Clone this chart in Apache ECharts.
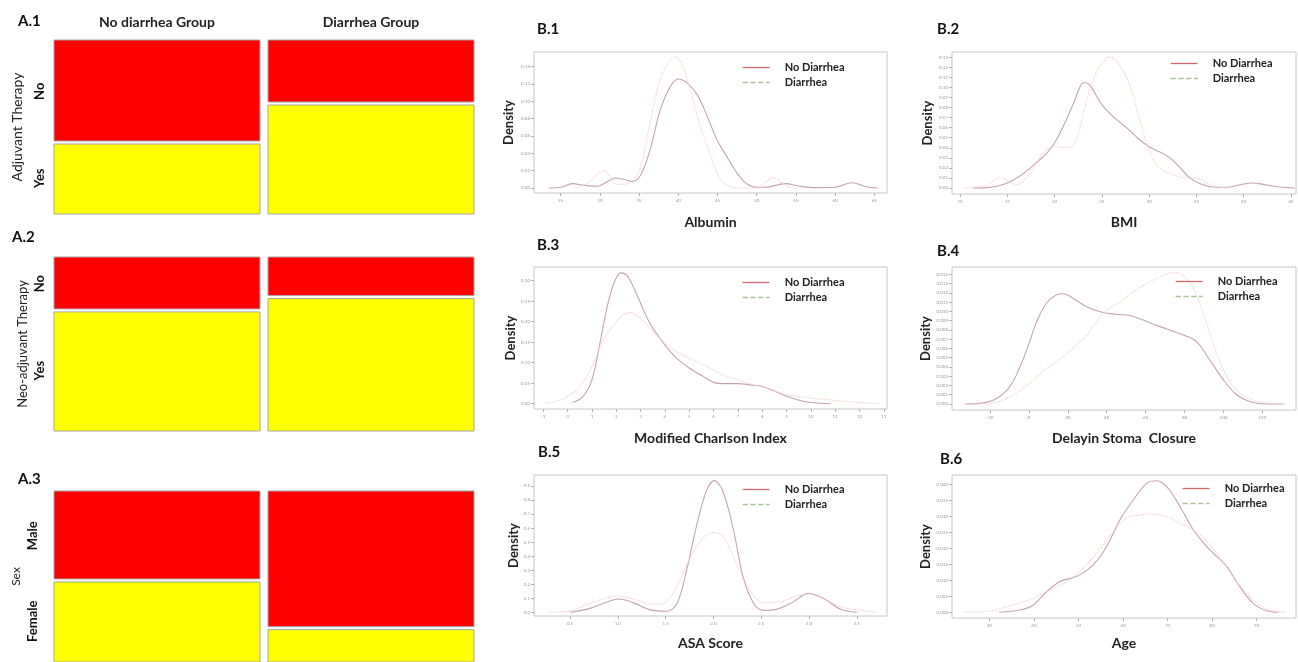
<!DOCTYPE html>
<html><head><meta charset="utf-8">
<script src="https://cdn.jsdelivr.net/npm/echarts@6/dist/echarts.min.js"></script>
<style>html,body{margin:0;padding:0;background:#fff}#c{width:1298px;height:662px}</style>
</head><body><div id="c"></div><script>
// ---------- Mosaic panels (A) ----------
const groups = ['No diarrhea Group', 'Diarrhea Group'];
const adjuvantNoShare = [0.589, 0.365];      // share of "No" within each group
const neoadjuvantNoShare = [0.307, 0.23];
const maleShare = [0.523, 0.802];
const adjuvantRows = ['No', 'Yes'];
const neoadjuvantRows = ['No', 'Yes'];
const sexRows = ['Male', 'Female'];

// ---------- Density panels (B) ----------
const albuminNo = [[23.5,0],[25,0.0008],[26.5,0.005],[28,0.003],[29.7,0.002],[30.7,0.006],[32,0.0115],[33,0.010],[34.1,0.0075],[35.2,0.015],[36.4,0.044],[37.7,0.09],[39,0.117],[40,0.1255],[41.1,0.121],[42.4,0.1075],[43.6,0.0845],[45,0.054],[46.2,0.036],[47.5,0.017],[48.7,0.005],[50,0.0008],[51.3,0.001],[53.6,0.005],[55.5,0.002],[57.6,0.0004],[60,0.0008],[62.1,0.006],[64,0.0015],[65.5,0]];
const albuminYes = [[26.9,0],[28.5,0.006],[30.5,0.020],[32.2,0.004],[33.9,0.0065],[35.2,0.025],[36.4,0.075],[37.7,0.125],[39,0.148],[39.6,0.151],[40.5,0.142],[41.5,0.113],[42.8,0.071],[44.1,0.038],[45.3,0.0115],[46.6,0.002],[48.3,0],[50,0],[51.3,0.0077],[52.1,0.012],[53.2,0.0065],[54.2,0.0008],[55.1,0]];
const bmiNo = [[11.4,0],[12.8,0.0003],[13.9,0.0017],[15,0.005],[16.3,0.0116],[17.8,0.023],[19.2,0.035],[20,0.045],[20.9,0.061],[22,0.084],[22.7,0.101],[23.1,0.105],[23.7,0.1025],[25,0.083],[26.2,0.071],[27.6,0.06],[29,0.048],[30,0.041],[31.1,0.036],[32.2,0.030],[33.3,0.020],[34.3,0.010],[35.4,0.0043],[36.8,0.001],[38.2,0.0007],[40,0.004],[41,0.005],[42.4,0.003],[43.8,0.001],[45.4,0]];
const bmiYes = [[10.5,0],[12.8,0.0026],[14.2,0.01],[16,0.0033],[17.4,0.015],[18.8,0.035],[20,0.041],[21.3,0.04],[22,0.043],[22.7,0.061],[23.4,0.088],[24.5,0.117],[25.5,0.129],[25.9,0.13],[26.9,0.122],[28,0.101],[29,0.068],[30.1,0.035],[31.1,0.02],[32.6,0.013],[34,0.01],[35,0.01],[36.1,0.005],[37.5,0.0007],[38.6,0]];
const charlsonNo = [[0.23,0.003],[0.64,0.018],[1,0.058],[1.33,0.148],[1.6,0.229],[1.88,0.29],[2.18,0.319],[2.42,0.314],[2.7,0.285],[3,0.245],[3.38,0.196],[3.79,0.16],[4,0.143],[4.48,0.111],[5,0.087],[5.58,0.066],[6,0.052],[6.4,0.049],[7,0.049],[7.5,0.046],[8,0.042],[8.45,0.032],[9,0.018],[9.55,0.008],[10,0.003],[10.8,0]];
const charlsonYes = [[-0.86,0.0016],[-0.45,0.0057],[0,0.018],[0.5,0.042],[1,0.091],[1.47,0.156],[2,0.2],[2.29,0.216],[2.56,0.222],[3,0.208],[3.52,0.176],[4,0.148],[4.48,0.127],[5,0.111],[5.58,0.095],[6.4,0.07],[7,0.058],[7.63,0.046],[8,0.042],[8.45,0.032],[9,0.022],[10,0.014],[11,0.008],[12,0.003],[12.77,0]];
const stomaNo = [[-32.9,0],[-25.1,0.00007],[-16.6,0.0006],[-9.7,0.0019],[-4.6,0.004],[0,0.0065],[4,0.0089],[9.1,0.0109],[14.3,0.0118],[17.7,0.0119],[22.8,0.0114],[29.7,0.0105],[36.6,0.00996],[43.4,0.0097],[50.3,0.0096],[57.1,0.0092],[64,0.0086],[70.8,0.0081],[80,0.0074],[86.3,0.0067],[93.1,0.0047],[100,0.0026],[106.8,0.001],[113.7,0.00025],[122.2,0],[130.8,0]];
const stomaYes = [[-32.9,0],[-20,0.00007],[-9.7,0.0008],[0,0.0022],[9.1,0.0038],[17.7,0.0051],[24.6,0.0064],[29.7,0.0074],[34.8,0.0089],[40,0.0101],[46.8,0.011],[53.7,0.0121],[60.5,0.013],[67.4,0.0137],[74.3,0.0142],[79.4,0.0139],[84.5,0.0125],[89.7,0.0098],[94.8,0.0065],[100,0.0037],[106.8,0.0015],[115.4,0.0004],[124,0.00007],[132.5,0]];
const asaNo = [[0.5,0],[0.71,0.028],[0.85,0.064],[1.01,0.095],[1.16,0.069],[1.34,0.017],[1.51,0.007],[1.62,0.064],[1.72,0.30],[1.83,0.634],[1.93,0.87],[2.01,0.938],[2.1,0.86],[2.21,0.587],[2.31,0.254],[2.42,0.064],[2.52,0.014],[2.66,0.021],[2.84,0.076],[2.99,0.135],[3.15,0.1],[3.33,0.021],[3.5,0]];
const asaYes = [[0.27,0],[0.5,0.0095],[0.71,0.064],[1.01,0.116],[1.2,0.088],[1.37,0.057],[1.51,0.076],[1.65,0.23],[1.79,0.432],[1.91,0.539],[2.01,0.568],[2.1,0.539],[2.24,0.349],[2.38,0.159],[2.52,0.069],[2.7,0.076],[2.87,0.116],[3.01,0.131],[3.15,0.1],[3.33,0.04],[3.5,0.017],[3.73,0]];
const ageNo = [[32.2,0],[36.9,0.0007],[39.9,0.0023],[42.9,0.0065],[45.9,0.0096],[48.1,0.0106],[50.3,0.0117],[53.3,0.0148],[56.3,0.0205],[59.3,0.0289],[62.3,0.0351],[65.3,0.0403],[67.4,0.0411],[69.8,0.0393],[72.8,0.033],[75.8,0.0257],[78.8,0.0205],[80.3,0.0184],[83.3,0.0143],[86.2,0.008],[89.2,0.0028],[92.2,0.0005],[94.8,0]];
const ageYes = [[24.2,0],[30,0.0004],[35.4,0.0023],[39.9,0.0044],[44.4,0.0075],[48.1,0.0101],[51.8,0.0148],[55.2,0.0205],[57.8,0.0252],[60.8,0.0294],[63.8,0.0304],[66.8,0.0307],[69.8,0.0299],[72.8,0.0278],[75.8,0.0257],[78.8,0.0221],[81.8,0.0169],[84.7,0.0111],[87.7,0.0059],[90.7,0.0023],[93.7,0.0005],[96.7,0]];

// tick labels
const albuminXTicks = ['25','30','35','40','45','50','55','60','65'];
const albuminYTicks = ['0.00','0.02','0.04','0.06','0.08','0.10','0.12','0.14'];
const bmiXTicks = ['10','15','20','25','30','35','40','45'];
const bmiYTicks = ['0.00','0.01','0.02','0.03','0.04','0.05','0.06','0.07','0.08','0.09','0.10','0.11','0.12','0.13'];
const charlsonXTicks = ['-1','0','1','2','3','4','5','6','7','8','9','10','11','12','13'];
const charlsonYTicks = ['0.00','0.05','0.10','0.15','0.20','0.25','0.30'];
const stomaXTicks = ['-20','0','20','40','60','80','100','120'];
const stomaYTicks = ['0.000','0.001','0.002','0.003','0.004','0.005','0.006','0.007','0.008','0.009','0.010','0.011','0.012','0.013','0.014'];
const asaXTicks = ['0.5','1.0','1.5','2.0','2.5','3.0','3.5'];
const asaYTicks = ['0.0','0.1','0.2','0.3','0.4','0.5','0.6','0.7','0.8','0.9'];
const ageXTicks = ['30','40','50','60','70','80','90'];
const ageYTicks = ['0.000','0.005','0.010','0.015','0.020','0.025','0.030','0.035','0.040'];

const FONT = 'Lato';
const chart = echarts.init(document.getElementById('c'), null, {renderer: 'canvas'});

// ---------- layout ----------
const mosaicPanels = [
  {label: 'A.1', labelPos: [18, 14], top: 40, share: adjuvantNoShare, rows: adjuvantRows, name: 'Adjuvant Therapy', nameGap: 26, nameSize: 14, rowLabelX: 40, showHeader: true},
  {label: 'A.2', labelPos: [12, 230], top: 257, share: neoadjuvantNoShare, rows: neoadjuvantRows, name: 'Neo-adjuvant Therapy', nameGap: 21, nameSize: 13, rowLabelX: 40, showHeader: false},
  {label: 'A.3', labelPos: [18, 472], top: 491, share: maleShare, rows: sexRows, name: 'Sex', nameGap: 28, nameSize: 12, rowLabelX: 33, showHeader: false}
];
const densityPanels = [
  {label: 'B.1', labelPos: [537, 22], grid: [534, 52, 353, 141], x: [21.59, 66.62], y: [-0.00576, 0.1566], xt: albuminXTicks, yt: albuminYTicks, xName: 'Albumin', xGap: 22, yGap: 19, no: albuminNo, yes: albuminYes, legend: [742, 62]},
  {label: 'B.2', labelPos: [937, 22], grid: [952, 52, 344, 142], x: [9.154, 45.53], y: [-0.006, 0.1353], xt: bmiXTicks, yt: bmiYTicks, xName: 'BMI', xGap: 21, yGap: 18, no: bmiNo, yes: bmiYes, legend: [1170, 58]},
  {label: 'B.3', labelPos: [537, 238], grid: [534, 267, 353, 142], x: [-1.382, 13.13], y: [-0.0129, 0.3333], xt: charlsonXTicks, yt: charlsonYTicks, xName: 'Modified Charlson Index', xGap: 22, yGap: 14, no: charlsonNo, yes: charlsonYes, legend: [742, 277]},
  {label: 'B.4', labelPos: [937, 244], grid: [952, 267, 344, 143], x: [-39.54, 137.3], y: [-0.00065, 0.01479], xt: stomaXTicks, yt: stomaYTicks, xName: 'Delayin Stoma  Closure', xGap: 21, yGap: 18, no: stomaNo, yes: stomaYes, legend: [1175, 276]},
  {label: 'B.5', labelPos: [538, 445], grid: [534, 475, 353, 141], x: [0.1234, 3.816], y: [-0.0264, 0.978], xt: asaXTicks, yt: asaYTicks, xName: 'ASA Score', xGap: 20, yGap: 14, no: asaNo, yes: asaYes, legend: [742, 484]},
  {label: 'B.6', labelPos: [940, 452], grid: [952, 475, 344, 143], x: [21.63, 98.81], y: [-0.00178, 0.0429], xt: ageXTicks, yt: ageYTicks, xName: 'Age', xGap: 18, yGap: 18, no: ageNo, yes: ageYes, legend: [1182, 483]}
];

const grids = [], xAxes = [], yAxes = [], series = [], titles = [], legends = [];

function mosaicRender(panel) {
  return function (params, api) {
    const cat = api.value(0), p = api.value(1);
    const c0 = api.coord([cat, 0]);
    const cp = api.coord([cat, p]);
    const c1 = api.coord([cat, 1]);
    const band = api.size([1, 0])[0];
    const w = band - 8;
    const x = c0[0] - w / 2;
    const gap = 1.5;
    const children = [
      {type: 'rect', shape: {x: x, y: c0[1], width: w, height: cp[1] - c0[1] - gap}, style: {fill: '#ff0000', stroke: '#a6a6a6', lineWidth: 1}},
      {type: 'rect', shape: {x: x, y: cp[1] + gap, width: w, height: c1[1] - cp[1] - gap}, style: {fill: '#ffff00', stroke: '#a6a6a6', lineWidth: 1}}
    ];
    if (params.dataIndex === 0) {
      const gridLeft = c0[0] - band / 2;
      const tx = gridLeft - (50 - panel.rowLabelX);
      [[panel.rows[0], (c0[1] + cp[1]) / 2], [panel.rows[1], (cp[1] + c1[1]) / 2]].forEach(function (r) {
        children.push({type: 'text', x: tx, y: r[1], rotation: Math.PI / 2,
          style: {text: r[0], font: 'bold 13px ' + FONT, fill: '#111', align: 'center', verticalAlign: 'middle'}});
      });
    }
    return {type: 'group', children: children};
  };
}

mosaicPanels.forEach(function (p, i) {
  grids.push({left: 50, top: p.top, width: 428, height: 174, show: false});
  xAxes.push({gridIndex: i, type: 'category', data: groups, position: 'top', boundaryGap: true,
    axisLine: {show: false}, axisTick: {show: false}, splitLine: {show: false},
    axisLabel: {show: p.showHeader, margin: 11, fontFamily: FONT, fontWeight: 'bold', fontSize: 14, color: '#222'}});
  yAxes.push({gridIndex: i, type: 'value', min: 0, max: 1, inverse: true,
    axisLine: {show: false}, axisTick: {show: false}, axisLabel: {show: false}, splitLine: {show: false},
    name: p.name, nameLocation: 'middle', nameRotate: 90, nameGap: p.nameGap,
    nameTextStyle: {fontFamily: FONT, fontSize: p.nameSize, color: '#222'}});
  series.push({type: 'custom', xAxisIndex: i, yAxisIndex: i, renderItem: mosaicRender(p), clip: false,
    data: p.share.map(function (v, k) { return [k, v]; }), silent: true});
  titles.push({text: p.label, left: p.labelPos[0], top: p.labelPos[1], padding: 0,
    textStyle: {fontFamily: FONT, fontWeight: 'bold', fontSize: 15, color: '#111'}});
});

function tickAxis(labels) {
  const vals = labels.map(Number);
  return {vals: vals, fmt: function (v) { const k = vals.indexOf(v); return k >= 0 ? labels[k] : String(v); }};
}

const NO_COLOR = '#c6a2b3';
const YES_COLOR = '#f1cfc7';

densityPanels.forEach(function (p, j) {
  const gi = j + 3;
  grids.push({left: p.grid[0], top: p.grid[1], width: p.grid[2], height: p.grid[3], show: true,
    borderColor: '#c6c6c6', borderWidth: 1, backgroundColor: 'transparent'});
  const xt = tickAxis(p.xt), yt = tickAxis(p.yt);
  xAxes.push({gridIndex: gi, type: 'value', min: p.x[0], max: p.x[1],
    axisLine: {show: false, onZero: false}, splitLine: {show: false},
    axisTick: {show: true, customValues: xt.vals, length: 3, lineStyle: {color: '#b0b0b0'}},
    axisLabel: {customValues: xt.vals, formatter: xt.fmt, fontSize: 4.5, color: '#9a9a9a', margin: 5, fontFamily: FONT},
    name: p.xName, nameLocation: 'middle', nameGap: p.xGap,
    nameTextStyle: {fontFamily: FONT, fontWeight: 'bold', fontSize: 14, color: '#222'}});
  yAxes.push({gridIndex: gi, type: 'value', min: p.y[0], max: p.y[1],
    axisLine: {show: false, onZero: false}, splitLine: {show: false},
    axisTick: {show: true, customValues: yt.vals, length: 3, lineStyle: {color: '#b0b0b0'}},
    axisLabel: {customValues: yt.vals, formatter: yt.fmt, fontSize: 4.5, color: '#9a9a9a', margin: 4, fontFamily: FONT},
    name: 'Density', nameLocation: 'middle', nameRotate: 90, nameGap: p.yGap,
    nameTextStyle: {fontFamily: FONT, fontWeight: 'bold', fontSize: 13, color: '#222'}});
  series.push({name: 'No Diarrhea', type: 'line', xAxisIndex: gi, yAxisIndex: gi, data: p.no,
    symbol: 'none', smooth: 0.35, lineStyle: {color: NO_COLOR, width: 1.1, type: 'solid'}, itemStyle: {color: NO_COLOR},
    silent: true, animation: false});
  series.push({name: 'Diarrhea', type: 'line', xAxisIndex: gi, yAxisIndex: gi, data: p.yes,
    symbol: 'none', smooth: 0.35, lineStyle: {color: YES_COLOR, width: 1.2, type: 'dotted'}, itemStyle: {color: YES_COLOR},
    silent: true, animation: false});
  titles.push({text: p.label, left: p.labelPos[0], top: p.labelPos[1], padding: 0,
    textStyle: {fontFamily: FONT, fontWeight: 'bold', fontSize: 15, color: '#111'}});
  legends.push({orient: 'vertical', left: p.legend[0], top: p.legend[1], padding: 0,
    itemWidth: 27, itemHeight: 8, itemGap: 4, selectedMode: false,
    textStyle: {fontFamily: FONT, fontWeight: 'bold', fontSize: 11, color: '#222', padding: [0, 0, 0, 10], lineHeight: 11},
    data: [
      {name: 'No Diarrhea', lineStyle: {color: '#d66a6a', width: 1.3, type: 'solid'}, itemStyle: {color: '#d66a6a', opacity: 0}},
      {name: 'Diarrhea', lineStyle: {color: '#a9c394', width: 1.3, type: 'dashed'}, itemStyle: {color: '#a9c394', opacity: 0}}
    ]});
});

chart.setOption({
  animation: false,
  backgroundColor: '#ffffff',
  textStyle: {fontFamily: FONT},
  title: titles,
  legend: legends,
  grid: grids,
  xAxis: xAxes,
  yAxis: yAxes,
  series: series
});
</script></body></html>
